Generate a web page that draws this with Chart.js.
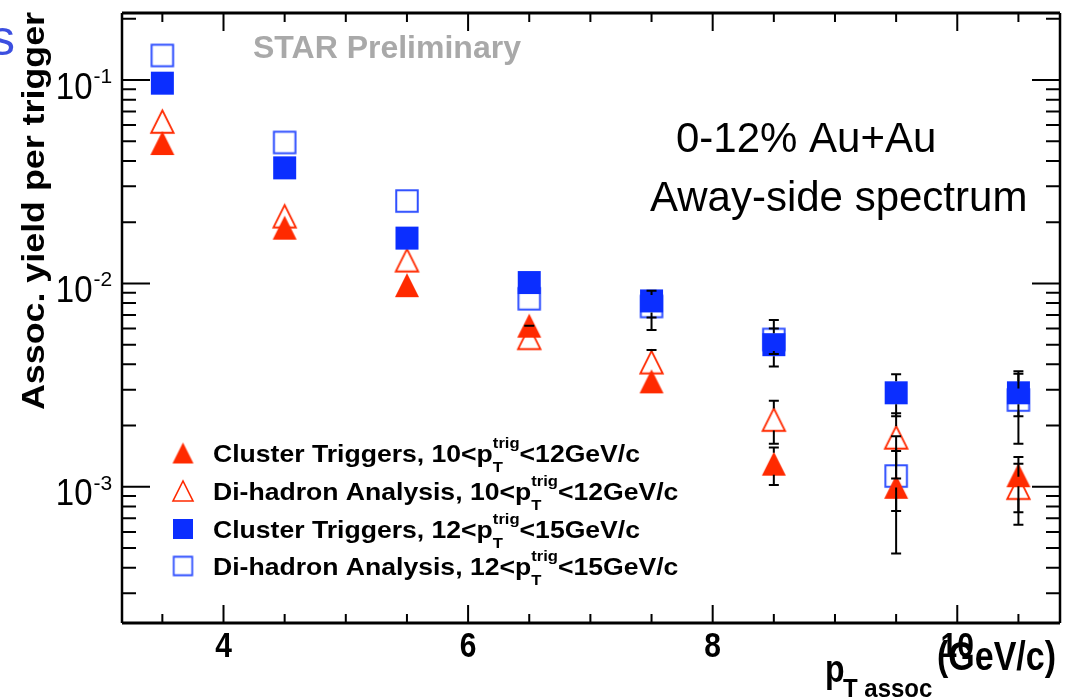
<!DOCTYPE html>
<html><head><meta charset="utf-8">
<script src="https://cdn.jsdelivr.net/npm/chart.js@4.4.1/dist/chart.umd.min.js"></script>
<style>html,body{margin:0;padding:0;background:#fff;overflow:hidden}#wrap{position:relative;width:1076px;height:698px}canvas{display:block}</style>
</head><body><div id="wrap"><canvas id="c" width="1076" height="698"></canvas></div>
<script>
// ---------- data ----------
const xValues = [3.5, 4.5, 5.5, 6.5, 7.5, 8.5, 9.5, 10.5];

// Cluster Triggers, 10<pT<12 (filled red triangles)
const clusterLowY     = [0.049, 0.0188, 0.0098, 0.0062, 0.0033, 0.0013, 0.0010, 0.00114];
const clusterLowErrLo = [0.049, 0.0188, 0.0098, 0.0055, 0.0029, 0.00102, 0.00047, 0.00075];
const clusterLowErrHi = [0.049, 0.0188, 0.0098, 0.0069, 0.0037, 0.00156, 0.00177, 0.0014];

// Di-hadron Analysis, 10<pT<12 (open red triangles)
const dihadLowY     = [0.0625, 0.0214, 0.0130, 0.0054, 0.0041, 0.00214, 0.00175, 0.00099];
const dihadLowErrLo = [0.0625, 0.0214, 0.0130, 0.0048, 0.0036, 0.00163, 0.0011, 0.00065];
const dihadLowErrHi = [0.0625, 0.0214, 0.0130, 0.0062, 0.0047, 0.00265, 0.0023, 0.0013];

// Cluster Triggers, 12<pT<15 (filled blue squares)
const clusterHighY     = [0.0965, 0.037, 0.0167, 0.0101, 0.0082, 0.0050, 0.0029, 0.0029];
const clusterHighErrLo = [0.0965, 0.037, 0.0167, 0.0093, 0.0068, 0.0039, 0.00222, 0.00222];
const clusterHighErrHi = [0.0965, 0.037, 0.0167, 0.0109, 0.0094, 0.0060, 0.00358, 0.0037];

// Di-hadron Analysis, 12<pT<15 (open blue squares)
const dihadHighY     = [0.132, 0.0493, 0.0254, 0.0084, 0.0077, 0.0053, 0.00113, 0.00267];
const dihadHighErrLo = [0.132, 0.0493, 0.0254, 0.0078, 0.0059, 0.0045, 0.00076, 0.00163];
const dihadHighErrHi = [0.132, 0.0493, 0.0254, 0.0090, 0.0092, 0.0066, 0.0015, 0.0036];

// ticks
const xTickValues = [4, 6, 8, 10];
const xTickLabels = ['4', '6', '8', '10'];
const yTickValues = [1e-1, 1e-2, 1e-3];
const yTickExponents = ['-1', '-2', '-3'];

// legend
const legendMain = ['Cluster Triggers, 10<p', 'Di-hadron Analysis, 10<p', 'Cluster Triggers, 12<p', 'Di-hadron Analysis, 12<p'];
const legendTail = ['<12GeV/c', '<12GeV/c', '<15GeV/c', '<15GeV/c'];

// ---------- styling ----------
const RED = '#ff2a00', BLUE = '#0b2eff', BLUE_OPEN = '#3050ff';
const FONT = '"Liberation Sans", Arial, Helvetica, sans-serif';

function makeMarker(shape, filled, color, size, lw) {
  const c = document.createElement('canvas');
  const s = Math.ceil(size + lw * 2 + 4);
  c.width = s; c.height = s;
  const g = c.getContext('2d');
  const h = size / 2, cx = s / 2, cy = s / 2;
  g.beginPath();
  if (shape === 'tri') { g.moveTo(cx - h, cy + h); g.lineTo(cx + h, cy + h); g.lineTo(cx, cy - h); g.closePath(); }
  else { g.rect(cx - h, cy - h, size, size); }
  if (filled) { g.fillStyle = color; g.fill(); }
  else { g.lineWidth = lw; g.strokeStyle = color; g.lineJoin = 'miter'; g.stroke(); }
  return c;
}
const mFilledTri = makeMarker('tri', true, RED, 24, 0);
const mOpenTri = makeMarker('tri', false, RED, 22.5, 1.8);
const mFilledSq = makeMarker('sq', true, BLUE, 23, 0);
const mOpenSq = makeMarker('sq', false, BLUE_OPEN, 21.5, 2);
const legendMarkers = [
  makeMarker('tri', true, RED, 21, 0),
  makeMarker('tri', false, RED, 20, 1.6),
  makeMarker('sq', true, BLUE, 20, 0),
  makeMarker('sq', false, BLUE_OPEN, 18.5, 1.8)
];

function pts(ys) { return xValues.map((x, i) => ({ x: x, y: ys[i] })); }

function txt(ctx, s, x, y, o) {
  ctx.save();
  ctx.translate(x, y);
  if (o.rot) ctx.rotate(o.rot);
  ctx.scale(o.sx || 1, o.sy || 1);
  ctx.font = (o.weight || 'normal') + ' ' + o.size + 'px ' + FONT;
  ctx.fillStyle = o.color || '#000';
  ctx.textAlign = o.align || 'left';
  ctx.textBaseline = 'alphabetic';
  ctx.fillText(s, 0, 0);
  ctx.restore();
}
function width(ctx, s, size, weight) {
  ctx.save(); ctx.font = (weight || 'normal') + ' ' + size + 'px ' + FONT;
  const w = ctx.measureText(s).width; ctx.restore(); return w;
}

const rootPlugin = {
  id: 'rootStyle',
  beforeDraw(chart) {
    const ctx = chart.ctx;
    ctx.save(); ctx.fillStyle = '#fff'; ctx.fillRect(0, 0, chart.width, chart.height); ctx.restore();
  },
  afterDatasetsDraw(chart) {
    const ctx = chart.ctx, ys = chart.scales.y;
    ctx.save();
    ctx.strokeStyle = '#000'; ctx.lineWidth = 2;
    chart.data.datasets.forEach((ds, i) => {
      const meta = chart.getDatasetMeta(i);
      const half = ds.markerHalf;
      meta.data.forEach((p, j) => {
        const x = p.x, yc = p.y;
        const yh = ys.getPixelForValue(ds.errHi[j]);
        const yl = ys.getPixelForValue(ds.errLo[j]);
        ctx.beginPath();
        if (yc - yh > half + 1) {
          ctx.moveTo(x, yc - half); ctx.lineTo(x, yh);
          ctx.moveTo(x - 5, yh); ctx.lineTo(x + 5, yh);
        }
        if (yl - yc > half + 1) {
          ctx.moveTo(x, yc + half); ctx.lineTo(x, yl);
          ctx.moveTo(x - 5, yl); ctx.lineTo(x + 5, yl);
        }
        ctx.stroke();
      });
    });
    ctx.restore();
  },
  afterDraw(chart) {
    const ctx = chart.ctx, a = chart.chartArea, xs = chart.scales.x, ys = chart.scales.y;
    ctx.save();
    // frame
    ctx.strokeStyle = '#000';
    ctx.lineWidth = 3;
    ctx.beginPath(); ctx.moveTo(a.left, a.top); ctx.lineTo(a.right, a.top); ctx.stroke();
    ctx.beginPath(); ctx.moveTo(a.left, a.bottom); ctx.lineTo(a.right, a.bottom); ctx.stroke();
    ctx.lineWidth = 2.5;
    ctx.beginPath(); ctx.moveTo(a.left, a.top); ctx.lineTo(a.left, a.bottom); ctx.stroke();
    ctx.beginPath(); ctx.moveTo(a.right, a.top); ctx.lineTo(a.right, a.bottom); ctx.stroke();
    // x ticks
    ctx.lineWidth = 2;
    for (let v = 3.5; v <= 10.51; v += 0.5) {
      const major = xTickValues.includes(v);
      const L = major ? 18 : 9;
      const px = xs.getPixelForValue(v);
      ctx.beginPath();
      ctx.moveTo(px, a.bottom); ctx.lineTo(px, a.bottom - L);
      ctx.moveTo(px, a.top); ctx.lineTo(px, a.top + L);
      ctx.stroke();
    }
    // y ticks
    for (let d = -4; d <= -1; d++) {
      for (let k = 1; k <= 9; k++) {
        const v = k * Math.pow(10, d);
        if (v < ys.min || v > ys.max) continue;
        const L = k === 1 ? 28 : 14;
        const py = ys.getPixelForValue(v);
        ctx.beginPath();
        ctx.moveTo(a.left, py); ctx.lineTo(a.left + L, py);
        ctx.moveTo(a.right, py); ctx.lineTo(a.right - L, py);
        ctx.stroke();
      }
    }
    // x tick labels
    xTickValues.forEach((v, i) => {
      txt(ctx, xTickLabels[i], xs.getPixelForValue(v), 657, { size: 30, weight: 'bold', align: 'center', sy: 1.15 });
    });
    // y tick labels
    yTickValues.forEach((v, i) => {
      const py = ys.getPixelForValue(v);
      txt(ctx, '10', 92.5, py + 18.5, { size: 33, align: 'right', sy: 1.1 });
      txt(ctx, yTickExponents[i], 93.5, py + 3, { size: 21 });
    });
    // y title
    const yt = 'Assoc. yield per trigger';
    const ytw = width(ctx, yt, 31, 'bold');
    txt(ctx, yt, 44, 410, { size: 31, weight: 'bold', rot: -Math.PI / 2, sx: 398 / ytw });
    // x title
    txt(ctx, 'p', 825, 682, { size: 32, weight: 'bold', sy: 1.2 });
    txt(ctx, 'T assoc', 843, 697, { size: 24, weight: 'bold', sy: 1.1 });
    txt(ctx, '(GeV/c)', 937, 670, { size: 34, weight: 'bold', sy: 1.2 });
    // STAR preliminary
    txt(ctx, 'STAR Preliminary', 253, 58, { size: 32, weight: 'bold', color: '#a9a9a9' });
    // annotations
    txt(ctx, '0-12% Au+Au', 676, 152, { size: 42 });
    txt(ctx, 'Away-side spectrum', 650, 211, { size: 42 });
    // fragment of slide title
    txt(ctx, 's', 15, 55, { size: 50, align: 'right', color: '#3c4fe0' });
    // legend
    const F = 24, FS = 15, rowsY = [453, 491, 529, 566];
    const w1 = width(ctx, legendMain[0], F, 'bold') + width(ctx, 'trig', FS, 'bold') + width(ctx, legendTail[0], F, 'bold');
    const lsx = 427 / w1;
    rowsY.forEach((yc, i) => {
      const m = legendMarkers[i];
      ctx.drawImage(m, 183 - m.width / 2, yc - m.height / 2);
      const base = yc + 8.5;
      let x = 213;
      txt(ctx, legendMain[i], x, base, { size: F, weight: 'bold', sx: lsx });
      x += width(ctx, legendMain[i], F, 'bold') * lsx;
      txt(ctx, 'trig', x, base - 14, { size: FS, weight: 'bold', sx: lsx });
      txt(ctx, 'T', x, base + 10, { size: FS, weight: 'bold', sx: lsx });
      x += width(ctx, 'trig', FS, 'bold') * lsx;
      txt(ctx, legendTail[i], x, base, { size: F, weight: 'bold', sx: lsx });
    });
    ctx.restore();
  }
};

new Chart(document.getElementById('c'), {
  type: 'scatter',
  data: {
    datasets: [
      { label: 'Cluster Triggers, 10<pT<12GeV/c', data: pts(clusterLowY), errLo: clusterLowErrLo, errHi: clusterLowErrHi, markerHalf: 11, pointStyle: mFilledTri, pointRadius: 12, showLine: false },
      { label: 'Cluster Triggers, 12<pT<15GeV/c', data: pts(clusterHighY), errLo: clusterHighErrLo, errHi: clusterHighErrHi, markerHalf: 11.5, pointStyle: mFilledSq, pointRadius: 12, showLine: false },
      { label: 'Di-hadron Analysis, 10<pT<12GeV/c', data: pts(dihadLowY), errLo: dihadLowErrLo, errHi: dihadLowErrHi, markerHalf: 11, pointStyle: mOpenTri, pointRadius: 12, showLine: false },
      { label: 'Di-hadron Analysis, 12<pT<15GeV/c', data: pts(dihadHighY), errLo: dihadHighErrLo, errHi: dihadHighErrHi, markerHalf: 11.5, pointStyle: mOpenSq, pointRadius: 12, showLine: false }
    ]
  },
  options: {
    responsive: false,
    devicePixelRatio: 1,
    animation: false,
    layout: { padding: { left: 122, right: 16, top: 10, bottom: 75 } },
    scales: {
      x: { type: 'linear', min: 3.17, max: 10.84, display: false },
      y: { type: 'logarithmic', min: 2.14e-4, max: 0.2135, display: false }
    },
    plugins: { legend: { display: false }, tooltip: { enabled: false } },
    elements: { point: { hoverRadius: 12 } }
  },
  plugins: [rootPlugin]
});
</script>
</body></html>
